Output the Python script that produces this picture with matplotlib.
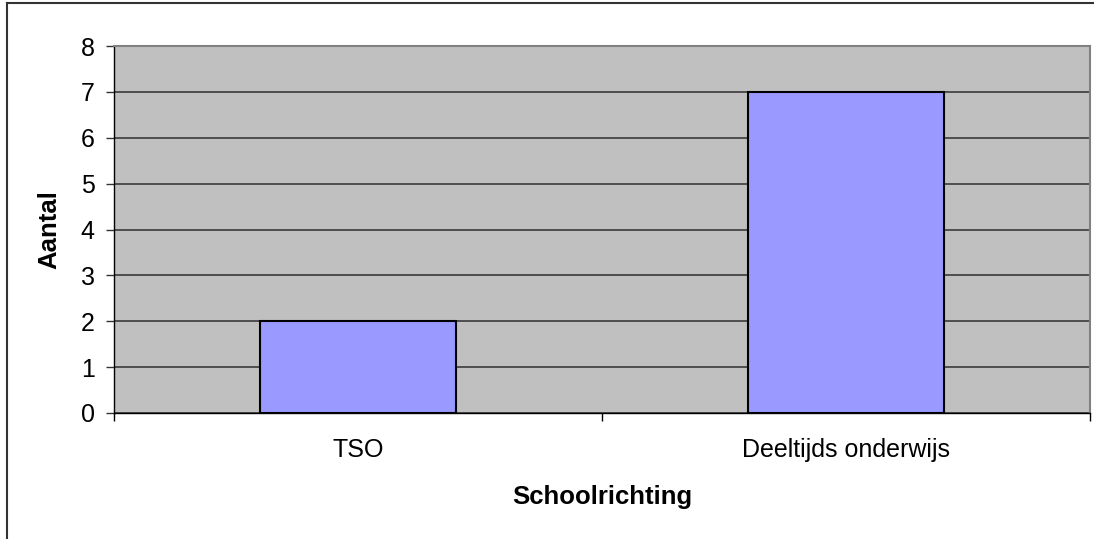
import matplotlib
matplotlib.use("Agg")
from matplotlib import pyplot as plt
from matplotlib.lines import Line2D

categories = ["TSO", "Deeltijds onderwijs"]
counts = [2, 7]
y_ticks = [0, 1, 2, 3, 4, 5, 6, 7, 8]

plt.rcParams["font.family"] = ["Liberation Sans", "DejaVu Sans"]

fig = plt.figure(figsize=(10.94, 5.39), dpi=100)
ax = fig.add_axes([114 / 1094, 126 / 539, 976 / 1094, 367 / 539])
ax.set_facecolor("#C0C0C0")

positions = list(range(len(categories)))
ax.bar(positions, counts, width=0.4, color="#9999FF", edgecolor="black",
       linewidth=1.5, zorder=3)

ax.set_xlim(-0.5, len(categories) - 0.5)
ax.set_ylim(0, 8)
ax.set_yticks(y_ticks)
ax.yaxis.grid(True, color="#3a3a3a", linewidth=1.2, zorder=1)
ax.set_axisbelow(True)

# category boundaries get the tick marks, names sit in between
ax.set_xticks([p - 0.5 for p in positions] + [positions[-1] + 0.5])
ax.set_xticklabels([])
ax.set_xticks(positions, minor=True)
ax.set_xticklabels(categories, minor=True)
ax.tick_params(axis="x", which="major", direction="out", length=6,
               width=1, color="black")
ax.tick_params(axis="x", which="minor", length=0, pad=18, labelsize=18)
ax.tick_params(axis="y", direction="out", length=6, width=1, color="#333333",
               pad=8, labelsize=18)

for side in ("top", "right"):
    ax.spines[side].set_color("#808080")
    ax.spines[side].set_linewidth(1.5)
for side in ("left", "bottom"):
    ax.spines[side].set_color("black")
    ax.spines[side].set_linewidth(1)

ax.set_xlabel("Schoolrichting", fontsize=18.5, fontweight="bold", va="center")
ax.xaxis.set_label_coords(0.5, -0.229)
ax.set_ylabel("Aantal", fontsize=18.5, fontweight="bold", va="center")
ax.yaxis.set_label_coords(-0.0666, 0.5)

# chart frame, only top and left edges are in the picture
fig.add_artist(Line2D([7 / 1094, 7 / 1094], [0, 1 - 3 / 539],
                      transform=fig.transFigure, color="#333333", linewidth=1.5))
fig.add_artist(Line2D([7 / 1094, 1], [1 - 3 / 539, 1 - 3 / 539],
                      transform=fig.transFigure, color="#333333", linewidth=1.5))

fig.savefig("out.png", dpi=100, facecolor="white")
